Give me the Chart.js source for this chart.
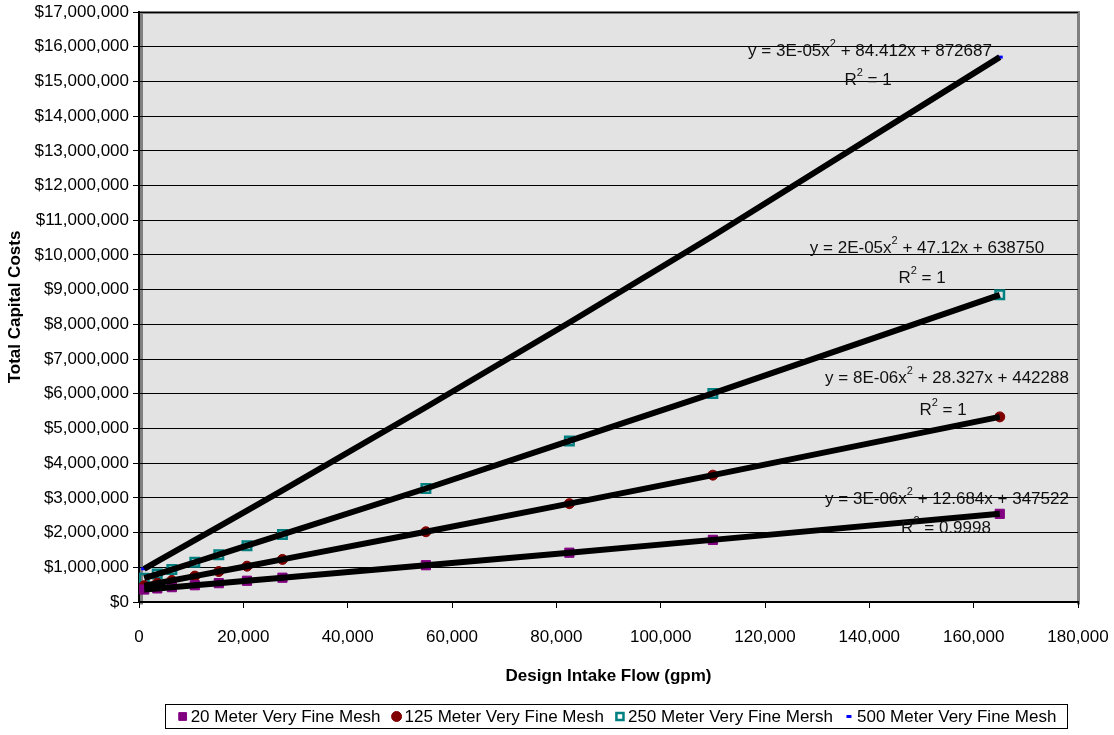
<!DOCTYPE html>
<html>
<head>
<meta charset="utf-8">
<script src="https://cdn.jsdelivr.net/npm/chart.js@4.4.0/dist/chart.umd.min.js"></script>
<style>
  html, body { margin: 0; padding: 0; background: #fff; }
  #wrap { width: 1114px; height: 735px; }
</style>
</head>
<body>
<div id="wrap"><canvas id="costChart" width="1114" height="735"></canvas></div>
<script>
// design intake flow (gpm)
const flowGpm = [1000, 3500, 6300, 10700, 15300, 20700, 27500, 55000, 82500, 110000, 165000];

// total capital costs per mesh size
const cost20m  = [360000, 392000, 428000, 484000, 543000, 612000, 700000, 1060000, 1420000, 1790000, 2540000];
const cost125m = [471000, 541000, 621000, 746000, 878000, 1032000, 1227000, 2024000, 2834000, 3655000, 5334000];
const cost250m = [686000, 804000, 936000, 1145000, 1364000, 1623000, 1947000, 3270000, 4640000, 6010000, 8850000];
const cost500m = [957000, 1168000, 1406000, 1780000, 2172000, 2634000, 3218000, 5611000, 8054000, 10546000, 15700000];

const seriesNames = [
    '20 Meter Very Fine Mesh',
    '125 Meter Very Fine Mesh',
    '250 Meter Very Fine Mersh',
    '500 Meter Very Fine Mesh'
];

// trendline labels: [before superscript, superscript, after]
const trendEquations = [
    ['y = 3E-06x', '2', ' + 12.684x + 347522'],
    ['y = 8E-06x', '2', ' + 28.327x + 442288'],
    ['y = 2E-05x', '2', ' + 47.12x + 638750'],
    ['y = 3E-05x', '2', ' + 84.412x + 872687']
];
const trendRSquared = ['0.9998', '1', '1', '1'];

const FONT = "Arial, 'Liberation Sans', sans-serif";

const toPoints = (ys) => flowGpm.map((x, i) => ({ x: x, y: ys[i] }));

const markerStyles = [
    { pointStyle: 'rect', pointRadius: 6.5, backgroundColor: '#800080', borderColor: '#800080', borderWidth: 1, legendRadius: 5.5 },
    { pointStyle: 'circle', pointRadius: 5, backgroundColor: '#800000', borderColor: '#800000', borderWidth: 1, legendRadius: 5 },
    { pointStyle: 'rect', pointRadius: 6, backgroundColor: 'rgba(0,0,0,0)', borderColor: '#008080', borderWidth: 2.5, legendRadius: 5 },
    { pointStyle: 'line', pointRadius: 3, backgroundColor: '#0000FF', borderColor: '#0000FF', borderWidth: 3, legendRadius: 2.5 }
];

const allCosts = [cost20m, cost125m, cost250m, cost500m];

const datasets = [];
allCosts.forEach((ys, i) => {
    const st = markerStyles[i];
    datasets.push({
        label: seriesNames[i],
        data: toPoints(ys),
        showLine: false,
        order: 1,
        pointStyle: st.pointStyle,
        pointRadius: st.pointRadius,
        backgroundColor: st.backgroundColor,
        borderColor: st.borderColor,
        borderWidth: st.borderWidth
    });
});
// black trend lines, drawn over the markers
allCosts.forEach((ys, i) => {
    datasets.push({
        label: 'trend ' + i,
        data: toPoints(ys),
        showLine: true,
        borderColor: '#000',
        borderWidth: 6,
        pointRadius: 0,
        order: 0
    });
});

// plot area background + grey frame
const plotFrame = {
    id: 'plotFrame',
    beforeDraw(chart) {
        const { ctx, chartArea: a } = chart;
        ctx.save();
        ctx.fillStyle = '#E3E3E3';
        ctx.fillRect(a.left, a.top, a.right - a.left, a.bottom - a.top);
        ctx.strokeStyle = '#808080';
        ctx.lineWidth = 3;
        ctx.beginPath();
        ctx.moveTo(a.left + 2.5, a.bottom + 2.5);
        ctx.lineTo(a.left + 2.5, a.top + 0.5);
        ctx.lineTo(a.right + 0.5, a.top + 0.5);
        ctx.lineTo(a.right + 0.5, a.bottom + 2.5);
        ctx.stroke();
        ctx.restore();
    }
};

function drawSupText(ctx, cx, baseline, parts) {
    const mainFont = '17px ' + FONT;
    const supFont = '11px ' + FONT;
    ctx.font = mainFont;
    const w0 = ctx.measureText(parts[0]).width;
    const w2 = ctx.measureText(parts[2]).width;
    ctx.font = supFont;
    const w1 = ctx.measureText(parts[1]).width;
    let x = cx - (w0 + w1 + w2) / 2;
    ctx.textAlign = 'left';
    ctx.textBaseline = 'alphabetic';
    ctx.font = mainFont;
    ctx.fillText(parts[0], x, baseline);
    x += w0;
    ctx.font = supFont;
    ctx.fillText(parts[1], x, baseline - 9);
    x += w1;
    ctx.font = mainFont;
    ctx.fillText(parts[2], x, baseline);
}

// trendline equations and R squared labels
const trendLabels = {
    id: 'trendLabels',
    afterDatasetsDraw(chart) {
        const ctx = chart.ctx;
        const eqPos = [[947, 504], [947, 383], [927, 253], [870, 56]];
        const rPos = [[946, 533], [943, 415], [922, 283], [868, 85]];
        ctx.save();
        ctx.fillStyle = '#111';
        trendEquations.forEach((eq, i) => {
            drawSupText(ctx, eqPos[i][0], eqPos[i][1], eq);
            drawSupText(ctx, rPos[i][0], rPos[i][1], ['R', '2', ' = ' + trendRSquared[i]]);
        });
        ctx.restore();
    }
};

// boxed legend under the axis title
const boxLegend = {
    id: 'boxLegend',
    afterDraw(chart) {
        const ctx = chart.ctx;
        const box = { left: 165.5, top: 704.5, right: 1067.5, bottom: 728.5 };
        ctx.save();
        ctx.strokeStyle = '#000';
        ctx.lineWidth = 1;
        ctx.strokeRect(box.left, box.top, box.right - box.left, box.bottom - box.top);
        ctx.font = '17px ' + FONT;
        const markW = 12, markGap = 2, itemGap = 10;
        const widths = seriesNames.map(n => ctx.measureText(n).width);
        let total = widths.reduce((s, w) => s + w, 0) + seriesNames.length * (markW + markGap) + (seriesNames.length - 1) * itemGap;
        let x = (box.left + box.right) / 2 - total / 2;
        const cy = (box.top + box.bottom) / 2;
        seriesNames.forEach((name, i) => {
            const st = markerStyles[i];
            ctx.fillStyle = st.backgroundColor;
            ctx.strokeStyle = st.borderColor;
            ctx.lineWidth = st.borderWidth;
            Chart.helpers.drawPoint(ctx, { pointStyle: st.pointStyle, radius: st.legendRadius, rotation: 0, borderWidth: st.borderWidth }, x + markW / 2, cy);
            x += markW + markGap;
            ctx.fillStyle = '#000';
            ctx.textAlign = 'left';
            ctx.textBaseline = 'middle';
            ctx.fillText(name, x, cy + 1);
            x += widths[i] + itemGap;
        });
        ctx.restore();
    }
};

const ctx = document.getElementById('costChart').getContext('2d');
new Chart(ctx, {
    type: 'scatter',
    data: { datasets: datasets },
    options: {
        responsive: false,
        devicePixelRatio: 1,
        animation: false,
        layout: { padding: { top: 12, right: 36, bottom: 44, left: 0 } },
        plugins: {
            legend: { display: false },
            tooltip: { enabled: false }
        },
        scales: {
            x: {
                type: 'linear',
                min: 0,
                max: 180000,
                ticks: {
                    stepSize: 20000,
                    autoSkip: false,
                    maxRotation: 0,
                    padding: 19,
                    color: '#000',
                    font: { family: FONT, size: 17 },
                    callback: v => v.toLocaleString('en-US')
                },
                grid: { drawOnChartArea: false, color: '#000', tickLength: 6 },
                border: { color: '#000', width: 2 },
                title: {
                    display: true,
                    text: 'Design Intake Flow (gpm)',
                    color: '#000',
                    font: { family: FONT, size: 17, weight: 'bold' }
                },
                afterFit: s => { s.height = 89; s.paddingLeft = 0; s.paddingRight = 0; }
            },
            y: {
                min: 0,
                max: 17000000,
                ticks: {
                    stepSize: 1000000,
                    autoSkip: false,
                    padding: 4,
                    color: '#000',
                    font: { family: FONT, size: 17 },
                    callback: v => '$' + v.toLocaleString('en-US')
                },
                grid: { color: '#000', lineWidth: 1, tickLength: 6 },
                border: { color: '#000', width: 2 },
                title: {
                    display: true,
                    text: 'Total Capital Costs',
                    color: '#000',
                    padding: { top: 5, bottom: 4 },
                    font: { family: FONT, size: 17, weight: 'bold' }
                },
                afterFit: s => { s.width = 139; s.paddingTop = 0; s.paddingBottom = 0; }
            }
        }
    },
    plugins: [plotFrame, trendLabels, boxLegend]
});
</script>
</body>
</html>
